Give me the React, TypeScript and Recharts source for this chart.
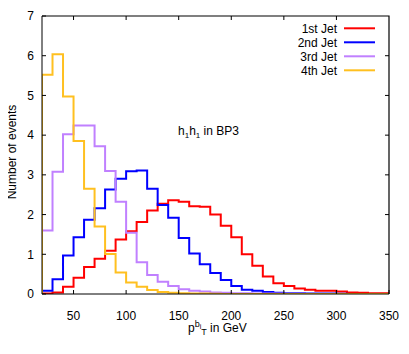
import React from 'react';
import { LineChart, Line, XAxis, YAxis } from 'recharts';

const binStarts = [20, 30, 40, 50, 60, 70, 80, 90, 100, 110, 120, 130, 140, 150, 160, 170, 180, 190, 200, 210, 220, 230, 240, 250, 260, 270, 280, 290, 300, 310, 320, 330, 340];
const binEnd = 350;
const jet1 = [0.01, 0.04, 0.18, 0.41, 0.68, 0.89, 1.09, 1.37, 1.58, 1.81, 2.10, 2.27, 2.36, 2.32, 2.21, 2.20, 2.00, 1.72, 1.43, 1.00, 0.71, 0.44, 0.27, 0.20, 0.14, 0.11, 0.08, 0.08, 0.06, 0.04, 0.03, 0.02, 0.02];
const jet2 = [0.08, 0.37, 0.97, 1.43, 1.87, 2.16, 2.63, 2.90, 3.09, 3.11, 2.65, 2.24, 1.92, 1.41, 1.02, 0.75, 0.53, 0.35, 0.20, 0.11, 0.08, 0.05, 0.03, 0.02, 0.02, 0.01, 0.01, 0.01, 0.005, 0.003, 0.002, 0.001, 0.001];
const jet3 = [1.60, 3.08, 4.02, 4.24, 4.24, 3.72, 3.10, 2.32, 1.54, 0.80, 0.48, 0.31, 0.20, 0.12, 0.08, 0.06, 0.04, 0.03, 0.02, 0.02, 0.01, 0.01, 0.01, 0.005, 0.005, 0.003, 0.002, 0.001, 0.001, 0.001, 0, 0, 0];
const jet4 = [5.52, 6.04, 4.97, 3.85, 2.65, 1.70, 1.01, 0.54, 0.29, 0.18, 0.10, 0.05, 0.03, 0.02, 0.01, 0.01, 0.005, 0.003, 0.002, 0.001, 0.001, 0, 0, 0, 0, 0, 0, 0, 0, 0, 0, 0, 0];

const seriesNames = ['1st Jet', '2nd Jet', '3rd Jet', '4th Jet'];
const seriesKeys = ['j1', 'j2', 'j3', 'j4'];
const seriesColors = ['#ff0000', '#0000ff', '#c080ff', '#ffc020'];
const seriesValues = [jet1, jet2, jet3, jet4];
const xTicks = [50, 100, 150, 200, 250, 300, 350];
const yTicks = [0, 1, 2, 3, 4, 5, 6, 7];
const X_MIN = 20;
const X_MAX = 350;
const Y_MIN = 0;
const Y_MAX = 7;

const FONT = '"Liberation Sans", Arial, Helvetica, sans-serif';
const AXIS = '#000';

const PL = 42;
const PR = 389;
const PT = 16;
const PB = 294;
const px = (v: number) => PL + ((v - X_MIN) / (X_MAX - X_MIN)) * (PR - PL);
const py = (v: number) => PB - ((v - Y_MIN) / (Y_MAX - Y_MIN)) * (PB - PT);

const rows: Record<string, number>[] = [];
rows.push({ x: binStarts[0], j1: 0, j2: 0, j3: 0, j4: 0 });
binStarts.forEach((b, i) => {
  const r: Record<string, number> = { x: b };
  seriesKeys.forEach((k, s) => (r[k] = seriesValues[s][i]));
  rows.push(r);
});
{
  const r: Record<string, number> = { x: binEnd };
  seriesKeys.forEach((k, s) => (r[k] = seriesValues[s][seriesValues[s].length - 1]));
  rows.push(r);
}

export default function App() {
  return (
    <div style={{ position: 'relative', width: 409, height: 354, margin: '-8px 0 0 -8px' }}>
      <LineChart
        width={409}
        height={354}
        data={rows}
        margin={{ top: PT, right: 409 - PR, left: 0, bottom: 0 }}
        style={{ fontFamily: FONT }}
      >
        <XAxis
          dataKey="x"
          type="number"
          domain={[X_MIN, X_MAX]}
          ticks={xTicks}
          allowDataOverflow
          allowDuplicatedCategory
          height={354 - PB}
          stroke={AXIS}
          tickSize={-4}
          tickMargin={21}
          tick={{ fill: '#000', fontSize: 12, fontFamily: FONT }}
        />
        <YAxis
          type="number"
          domain={[Y_MIN, Y_MAX]}
          ticks={yTicks}
          allowDataOverflow
          width={PL}
          stroke={AXIS}
          tickSize={-4}
          tickMargin={12}
          tick={{ fill: '#000', fontSize: 12, fontFamily: FONT }}
        />
        {seriesKeys.map((k, i) => (
          <Line
            key={k}
            name={seriesNames[i]}
            dataKey={k}
            type="stepAfter"
            stroke={seriesColors[i]}
            strokeWidth={2}
            dot={false}
            activeDot={false}
            isAnimationActive={false}
          />
        ))}
      </LineChart>
      <svg
        width={409}
        height={354}
        style={{ position: 'absolute', left: 0, top: 0, pointerEvents: 'none' }}
      >
        <path
          d={`M${PL},${PT} L${PR},${PT} L${PR},${PB}`}
          fill="none"
          stroke={AXIS}
          strokeWidth={1.2}
        />
        {xTicks.slice(0, -1).map((t) => (
          <line key={'tx' + t} x1={px(t)} x2={px(t)} y1={PT} y2={PT + 4} stroke={AXIS} strokeWidth={1} />
        ))}
        {yTicks.slice(1, -1).map((t) => (
          <line key={'ty' + t} x1={PR - 4} x2={PR} y1={py(t)} y2={py(t)} stroke={AXIS} strokeWidth={1} />
        ))}
        {seriesNames.map((name, i) => (
          <g key={name}>
            <text
              x={337}
              y={32.5 + i * 14}
              textAnchor="end"
              fontSize={12}
              fontFamily={FONT}
              fill="#000"
            >
              {name}
            </text>
            <line x1={344} x2={375} y1={28.3 + i * 14} y2={28.3 + i * 14} stroke={seriesColors[i]} strokeWidth={2} />
          </g>
        ))}
        <text x={178} y={134.5} fontSize={12} fontFamily={FONT} fill="#000">
          <tspan>h</tspan>
          <tspan dy={3} fontSize={8}>1</tspan>
          <tspan dy={-3}>h</tspan>
          <tspan dy={3} fontSize={8}>1</tspan>
          <tspan dy={-3}> in BP3</tspan>
        </text>
        <text
          x={16}
          y={152}
          transform="rotate(-90, 16, 152)"
          textAnchor="middle"
          fontSize={12}
          fontFamily={FONT}
          fill="#000"
        >
          Number of events
        </text>
        <text x={188} y={332} fontSize={12} fontFamily={FONT} fill="#000">
          <tspan>p</tspan>
          <tspan dy={-5} fontSize={9}>b</tspan>
          <tspan dy={2} fontSize={7}>i</tspan>
          <tspan dy={6} fontSize={9}>T</tspan>
          <tspan dy={-3}> in GeV</tspan>
        </text>
      </svg>
    </div>
  );
}
